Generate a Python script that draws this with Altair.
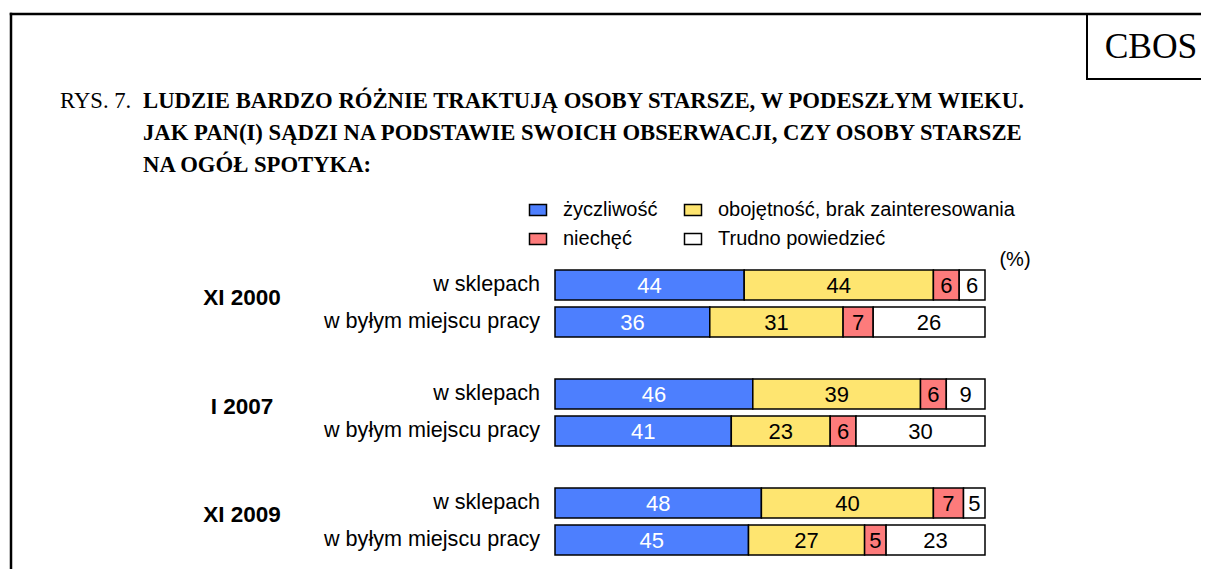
import altair as alt
import pandas as pd

# ---- data ----
groups = ["XI 2000", "I 2007", "XI 2009"]
places = ["w sklepach", "w byłym miejscu pracy"]
answers = ["życzliwość", "obojętność, brak zainteresowania", "niechęć", "Trudno powiedzieć"]
colors = ["#4d7ffe", "#fee570", "#fd7b7b", "#ffffff"]

zyczliwosc = [44, 36, 46, 41, 48, 45]
obojetnosc = [44, 31, 39, 23, 40, 27]
niechec = [6, 7, 6, 6, 7, 5]
trudno = [6, 26, 9, 30, 5, 23]

title_prefix = "RYS. 7."
title_lines = [
    "LUDZIE BARDZO RÓŻNIE TRAKTUJĄ OSOBY STARSZE, W PODESZŁYM WIEKU.",
    "JAK PAN(I) SĄDZI NA PODSTAWIE SWOICH OBSERWACJI, CZY OSOBY STARSZE",
    "NA OGÓŁ SPOTYKA:",
]
source_label = "CBOS"
unit_label = "(%)"

# ---- tables ----
series = [zyczliwosc, obojetnosc, niechec, trudno]
rows = []
i = 0
for g in groups:
    for p in places:
        for k, a in enumerate(answers):
            rows.append({"group": g, "place": p, "answer": a, "ord": k, "value": series[k][i]})
        i += 1
df = pd.DataFrame(rows)
rows_df = pd.DataFrame([{"group": g, "place": p} for g in groups for p in places])
groups_df = pd.DataFrame({"group": groups})
one = pd.DataFrame({"k": [0]})

SANS = "Liberation Sans"
SERIF = "Liberation Serif"

yscale = alt.Scale(domain=groups, paddingInner=0.385, paddingOuter=0)
yoff = alt.Scale(domain=places, paddingInner=0.189, paddingOuter=0)
xscale = alt.Scale(domain=[0, 100], nice=False, zero=True)

base = alt.Chart(df).transform_stack(
    stack="value", groupby=["group", "place"], as_=["x0", "x1"],
    sort=[alt.SortField("ord", order="ascending")]
).transform_calculate(mid="(datum.x0 + datum.x1) / 2")

bars = base.mark_bar(stroke="black", strokeWidth=1.5).encode(
    x=alt.X("x0:Q", scale=xscale, axis=None),
    x2="x1:Q",
    y=alt.Y("group:N", scale=yscale, axis=None),
    yOffset=alt.YOffset("place:N", scale=yoff),
    color=alt.Color(
        "answer:N",
        scale=alt.Scale(domain=answers, range=colors),
        legend=alt.Legend(
            title=None, orient="none", legendX=-27, legendY=-70, columns=2,
            direction="horizontal",
            symbolType="M-1,-0.65L1,-0.65L1,0.65L-1,0.65Z", symbolSize=289,
            symbolStrokeColor="black", symbolStrokeWidth=1.5, symbolOpacity=1,
            labelFont=SANS, labelFontSize=20, labelColor="black", labelOffset=15,
            labelLimit=500, columnPadding=23, rowPadding=9, padding=0,
        ),
    ),
)

values = base.mark_text(font=SANS, fontSize=22, baseline="middle", dy=1).encode(
    x=alt.X("mid:Q", scale=xscale, axis=None),
    y=alt.Y("group:N", scale=yscale, axis=None),
    yOffset=alt.YOffset("place:N", scale=yoff),
    text=alt.Text("value:Q"),
    color=alt.condition(alt.datum.answer == answers[0], alt.value("white"), alt.value("black")),
)

place_labels = alt.Chart(rows_df).mark_text(
    font=SANS, fontSize=21.6, align="right", baseline="middle", color="black"
).encode(
    x=alt.value(-15),
    y=alt.Y("group:N", scale=yscale, axis=None),
    yOffset=alt.YOffset("place:N", scale=yoff),
    text="place:N",
)

group_labels = alt.Chart(groups_df).mark_text(
    font=SANS, fontSize=22.5, fontWeight="bold", align="center", baseline="middle", dy=-6, color="black"
).encode(
    x=alt.value(-313),
    y=alt.Y("group:N", scale=yscale, axis=None),
    text="group:N",
)


def note(text, x, y, **kw):
    return alt.Chart(one).mark_text(baseline="middle", color="black", **kw).encode(
        x=alt.value(x), y=alt.value(y), text=alt.value(text)
    )


pct = note(unit_label, 460, -10, font=SANS, fontSize=20, align="center")
cbos = note(source_label, 596, -223, font=SERIF, fontSize=35.5, align="center")
prefix = note(title_prefix, -495, -169, font=SERIF, fontSize=22.7, align="left")
title = note(title_lines, -412, -169, font=SERIF, fontSize=22.7, fontWeight="bold",
             align="left", lineHeight=32)


def rule(x, y, x2=None, y2=None, w=2.5):
    enc = {"x": alt.value(x), "y": alt.value(y)}
    if x2 is not None:
        enc["x2"] = alt.value(x2)
    if y2 is not None:
        enc["y2"] = alt.value(y2)
    return alt.Chart(one).mark_rule(color="black", strokeWidth=w, strokeCap="square").encode(**enc)


frame = [
    rule(-544, -256, x2=700),
    rule(-544, -256, y2=330),
    rule(532, -256, y2=-191, w=2),
    rule(532, -191, x2=700, w=2),
]

chart = alt.layer(bars, values, place_labels, group_labels, pct, cbos, prefix, title, *frame).properties(
    width=430,
    height=285,
    autosize=alt.AutoSizeParams(type="none"),
    padding={"left": 547, "top": 262, "right": 216, "bottom": 14},
    background="white",
).configure_view(stroke=None)

chart.save("out.html", embed_options={"renderer": "svg", "actions": False})
